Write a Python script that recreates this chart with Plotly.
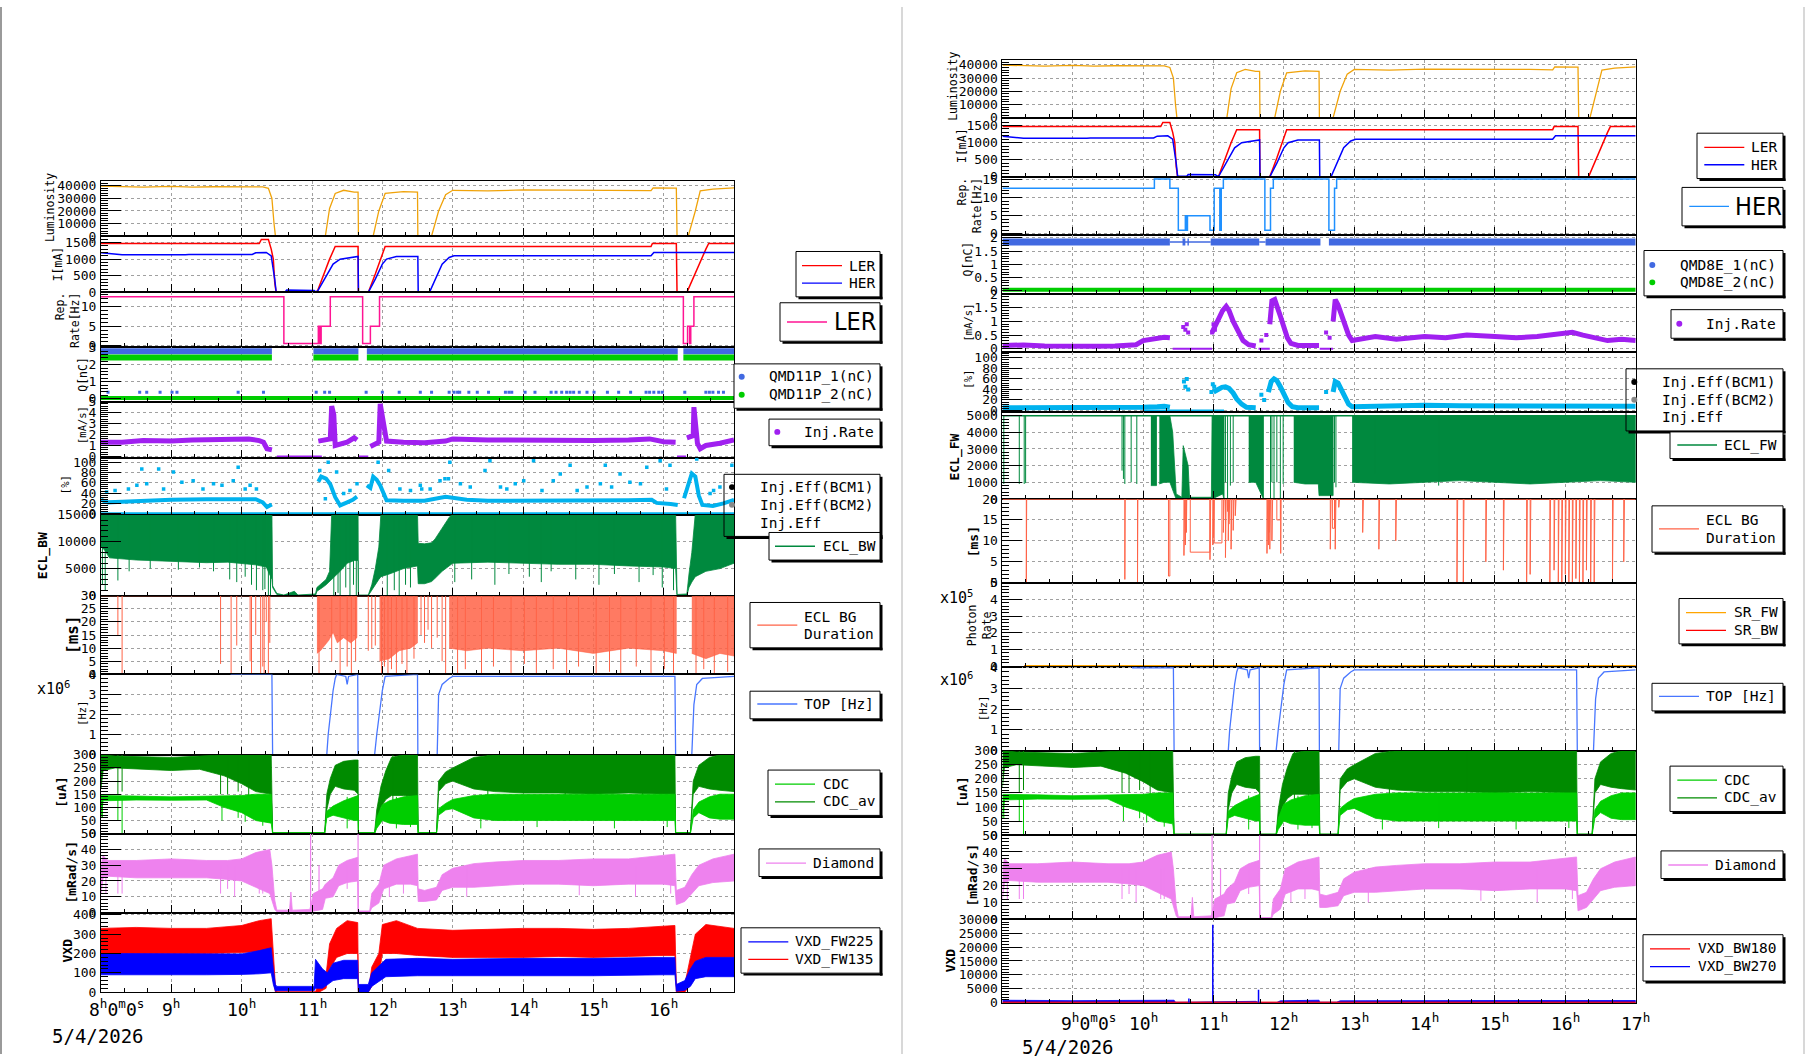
import plotly.graph_objects as go

W, H = 1806, 1062
HOURS = list(range(8, 18))

# ====================== DATA (hours of day, values) ======================
# ---- shared detector / machine data (drawn on both canvases) ----
LUMINOSITY = [(8.0, 39800), (8.3, 39500), (8.6, 39000), (9.0, 39600), (9.3, 39000), (9.6, 39300),
              (10.0, 39200), (10.2, 38700), (10.3, 39200), (10.38, 38000), (10.43, 30000), (10.46, 10000),
              (10.48, 0), (11.19, 0), (11.25, 22000), (11.33, 34000), (11.45, 36500), (11.6, 35000),
              (11.655, 35000), (11.66, 0), (11.87, 0), (11.95, 20000), (12.04, 34000), (12.3, 35500),
              (12.5, 35000), (12.505, 0), (12.70, 0), (12.8, 20000), (12.9, 33000), (13.0, 36500),
              (13.5, 36000), (14.0, 36800), (14.5, 36800), (15.0, 36700), (15.5, 36500), (15.82, 36200),
              (15.85, 38500), (16.18, 38200), (16.19, 0), (16.35, 0), (16.45, 20000), (16.52, 36000),
              (16.7, 37500), (17.0, 38500)]
LER_CURRENT = [(8.0, 1470), (10.25, 1470), (10.28, 1590), (10.38, 1590), (10.42, 1300), (10.45, 1000),
               (10.47, 300), (10.49, 0), (11.07, 0), (11.15, 450), (11.25, 1000), (11.33, 1380),
               (11.655, 1380), (11.66, 0), (11.80, 0), (11.9, 550), (12.0, 1100), (12.04, 1380),
               (15.82, 1380), (15.84, 1470), (16.18, 1470), (16.19, 0), (16.33, 0), (16.45, 600),
               (16.6, 1300), (16.64, 1470), (17.0, 1470)]
HER_CURRENT = [(8.0, 1190), (8.15, 1170), (8.3, 1130), (9.2, 1130), (9.25, 1140), (10.15, 1140),
               (10.2, 1190), (10.35, 1200), (10.42, 1100), (10.47, 400), (10.49, 20), (10.62, 20),
               (10.64, 70), (11.03, 60), (11.05, 20), (11.08, 40), (11.2, 500), (11.3, 850), (11.4, 1000),
               (11.55, 1060), (11.655, 1080), (11.66, 0), (11.80, 0), (11.9, 400), (12.0, 850),
               (12.06, 1000), (12.2, 1080), (12.505, 1080), (12.51, 0), (12.67, 0), (12.75, 400),
               (12.85, 850), (12.95, 1050), (13.02, 1100), (15.82, 1100), (15.86, 1200), (17.0, 1200)]
TOP_RATE = [(8.0, 4.3), (9.84, 4.3), (9.85, 4.0), (10.43, 4.0), (10.44, 0), (11.21, 0), (11.23, 1.0),
            (11.26, 2.0), (11.3, 3.2), (11.33, 3.8), (11.35, 4.0), (11.48, 3.9), (11.5, 3.5), (11.52, 3.9),
            (11.65, 4.0), (11.655, 0), (11.89, 0), (11.92, 1.0), (11.96, 2.2), (12.0, 3.2), (12.04, 3.9),
            (12.5, 4.0), (12.505, 0), (12.78, 0), (12.8, 3.0), (12.85, 3.5), (12.95, 3.8), (13.0, 3.9),
            (16.16, 3.9), (16.17, 0), (16.4, 0), (16.43, 2.5), (16.47, 3.5), (16.55, 3.8), (17.0, 3.9)]
# CDC bands: (t, low, high)
CDC_AV_BAND = [(8.0, 170, 300), (8.03, 240, 300), (8.2, 250, 295), (8.6, 245, 292), (9.0, 240, 290),
               (9.4, 245, 295), (9.75, 220, 300), (10.0, 190, 300), (10.2, 160, 300), (10.42, 150, 300),
               (10.44, 0, 4), (11.18, 0, 4), (11.21, 90, 150), (11.26, 150, 210), (11.33, 180, 260),
               (11.45, 170, 275), (11.6, 165, 280), (11.655, 150, 280), (11.66, 0, 4), (11.89, 0, 4),
               (11.92, 40, 90), (11.98, 100, 180), (12.05, 130, 240), (12.13, 145, 290), (12.3, 145, 300),
               (12.5, 140, 300), (12.51, 0, 4), (12.77, 0, 4), (12.8, 160, 200), (12.9, 190, 235),
               (13.0, 200, 250), (13.3, 170, 290), (13.6, 160, 300), (14.0, 155, 300), (14.5, 155, 300),
               (15.0, 150, 300), (15.5, 155, 300), (16.0, 150, 300), (16.16, 150, 300), (16.17, 0, 4),
               (16.38, 0, 4), (16.42, 150, 200), (16.5, 180, 260), (16.65, 170, 290), (16.8, 165, 300),
               (17.0, 160, 300)]
CDC_BAND = [(8.0, 60, 145), (8.03, 125, 145), (8.5, 128, 143), (9.0, 127, 140), (9.5, 128, 142),
            (9.75, 100, 142), (10.0, 80, 145), (10.2, 50, 150), (10.42, 40, 150), (10.44, 0, 3),
            (11.18, 0, 3), (11.21, 60, 85), (11.3, 70, 105), (11.45, 60, 125), (11.6, 50, 140),
            (11.655, 50, 145), (11.66, 0, 3), (11.89, 0, 3), (11.92, 20, 60), (12.0, 50, 110),
            (12.1, 40, 125), (12.3, 35, 140), (12.5, 35, 145), (12.51, 0, 3), (12.77, 0, 3), (12.8, 70, 95),
            (12.9, 90, 115), (13.0, 95, 130), (13.3, 60, 145), (13.6, 50, 150), (14.0, 50, 150),
            (14.5, 50, 150), (15.0, 50, 150), (15.5, 50, 150), (16.0, 50, 150), (16.16, 50, 150),
            (16.17, 0, 3), (16.38, 0, 3), (16.42, 60, 90), (16.5, 80, 120), (16.65, 60, 140),
            (16.8, 55, 150), (17.0, 55, 150)]
CDC_AV_DIPS = [(8.24, 150), (8.3, 160), (9.7, 150), (9.8, 150), (9.95, 160), (10.1, 140), (12.15, 100),
               (12.35, 110), (13.5, 100), (14.6, 110), (15.7, 100)]
CDC_DIPS = [(8.02, 60), (8.24, 50), (8.3, 0), (9.72, 50), (9.95, 60), (10.05, 45), (10.3, 30), (11.5, 20),
            (12.2, 20), (12.4, 25), (13.4, 20), (14.2, 25), (15.3, 20), (16.05, 25)]
DIAMOND_BAND = [(8.0, 12, 30), (8.03, 22, 36), (8.1, 23, 33), (8.5, 22, 33), (9.0, 22, 34), (9.5, 22, 33),
                (9.8, 21, 33), (10.0, 20, 34), (10.2, 16, 38), (10.4, 12, 40), (10.43, 8, 30), (10.47, 2, 8),
                (10.5, 0.5, 1.5), (10.68, 0.5, 1.5), (10.7, 0.5, 13), (10.72, 0.5, 1.5), (10.97, 0.5, 2),
                (11.02, 1, 12), (11.15, 2, 15), (11.19, 9, 18), (11.3, 10, 22), (11.38, 17, 30),
                (11.5, 19, 33), (11.65, 20, 35), (11.66, 0, 1), (11.82, 0, 1), (11.85, 3, 12), (11.95, 6, 18),
                (12.02, 15, 30), (12.2, 18, 34), (12.4, 18, 36), (12.5, 17, 37), (12.51, 7, 15), (12.6, 7, 14),
                (12.77, 8, 16), (12.85, 14, 24), (13.0, 16, 28), (13.3, 16, 31), (13.6, 17, 32),
                (14.0, 18, 33), (14.5, 18, 33), (15.0, 17, 34), (15.5, 18, 34), (16.0, 18, 36),
                (16.16, 17, 37), (16.18, 5, 14), (16.3, 7, 16), (16.4, 12, 24), (16.5, 17, 30),
                (16.7, 19, 34), (17.0, 20, 37)]
DIAMOND_DIPS = [(8.07, 12), (8.24, 12), (8.3, 12), (9.7, 12), (9.8, 15), (9.9, 10), (10.25, 12), (10.3, 12),
                (11.5, 15), (12.1, 10), (12.3, 12), (13.2, 10), (14.8, 11), (15.6, 10), (16.1, 12)]
DIAMOND_PEAKS = [(10.98, 0, 50), (11.1, 2, 30), (11.655, 0, 50)]

# ---- left canvas : LER ----
REP_LER = [(8.0, 12.5), (10.60, 0.6), (11.09, 5), (11.11, 0.6), (11.13, 5), (11.26, 12.5), (11.72, 0.6),
           (11.83, 5), (11.96, 12.5), (16.28, 0.6), (16.34, 5), (16.37, 0.6), (16.385, 5), (16.43, 12.5),
           (17.0, 12.5)]
QMD11P_1_SPANS = [(8.0, 10.43), (11.02, 11.66), (11.78, 16.2), (16.28, 17.0)]
QMD11P_1_LEVEL = 2.8
QMD11P_1_LOW_T = [8.1, 8.55, 8.65, 8.84, 9.01, 9.08, 9.95, 10.31, 11.06, 11.18, 11.25, 11.77, 12.0, 12.24,
                  12.54, 12.7, 12.95, 13.02, 13.07, 13.1, 13.23, 13.35, 13.51, 13.75, 13.8, 13.84, 14.03,
                  14.17, 14.4, 14.47, 14.55, 14.62, 14.67, 14.72, 14.8, 14.91, 15.01, 15.2, 15.36, 15.53,
                  15.75, 15.8, 15.86, 15.93, 15.98, 16.3, 16.6, 16.65, 16.7, 16.78, 16.85]
QMD11P_1_LOW_LEVEL = 0.38
QMD11P_2_SPANS = [(8.0, 10.43), (11.02, 11.66), (11.78, 16.2), (16.28, 17.0)]
QMD11P_2_LEVEL = 2.42
QMD11P_2_LOW_SPANS = [(8.0, 17.0)]
QMD11P_2_LOW_LEVEL = 0.05
INJ_RATE_LER = [(8.0, 1.3), (8.3, 1.3), (8.6, 1.45), (9.0, 1.4), (9.3, 1.5), (9.6, 1.55), (9.9, 1.6),
                (10.1, 1.6), (10.25, 1.45), (10.31, 1.3), (10.36, 0.7), (10.43, 0.6), None,
                (11.09, 1.4), (11.2, 1.5), (11.26, 1.6), (11.28, 4.6), (11.31, 3.8), (11.33, 1.0), (11.4, 1.1),
                (11.5, 1.3), (11.6, 1.7), (11.64, 1.5), None,
                (11.83, 0.9), (11.9, 1.1), (11.95, 1.3), (11.97, 4.8), (12.0, 3.5), (12.04, 2.0), (12.06, 1.4),
                (12.3, 1.3), (12.6, 1.25), (12.9, 1.4), (13.0, 1.6), (13.5, 1.5), (14.0, 1.45), (14.5, 1.5),
                (15.0, 1.45), (15.5, 1.5), (15.8, 1.6), (16.0, 1.35), (16.17, 1.3), None,
                (16.33, 1.7), (16.38, 1.8), (16.42, 1.9), (16.43, 4.5), (16.46, 3.0), (16.48, 1.2),
                (16.52, 0.7), (16.6, 1.0), (16.8, 1.2), (17.0, 1.5)]
INJ_RATE_LER_ZERO = [(10.5, 11.14), (11.66, 11.8), (16.19, 16.32)]
INJ_EFF_LER = [(8.0, 27), (8.1, 22), (8.3, 23), (8.6, 25), (9.0, 27), (9.5, 28), (10.0, 29), (10.2, 28),
               (10.3, 22), (10.36, 13), (10.4, 16), (10.43, 18), None,
               (11.09, 62), (11.13, 72), (11.2, 68), (11.26, 57), (11.33, 32), (11.4, 16), (11.5, 22),
               (11.58, 27), (11.64, 33), None,
               (11.78, 55), (11.83, 50), (11.87, 72), (11.92, 66), (11.97, 55), (12.02, 38), (12.06, 26),
               (12.3, 25), (12.6, 25), (12.9, 33), (13.0, 31), (13.2, 27), (13.5, 25), (14.0, 25),
               (14.5, 25), (15.0, 26), (15.5, 26), (15.83, 27), (15.9, 21), (16.1, 19), (16.2, 17), None,
               (16.29, 30), (16.35, 55), (16.4, 78), (16.45, 72), (16.5, 35), (16.55, 17), (16.7, 15),
               (16.85, 20), (17.0, 27)]
INJ_EFF_LER_DOTS_T = [8.08, 8.2, 8.39, 8.51, 8.58, 8.65, 8.82, 8.89, 9.03, 9.15, 9.31, 9.45, 9.6, 9.72,
                      9.88, 9.95, 10.05, 10.12, 10.21, 11.11, 11.19, 11.23, 11.35, 11.45, 11.54, 11.64,
                      11.94, 12.09, 12.25, 12.4, 12.54, 12.68, 12.82, 12.94, 12.56, 12.89, 12.96,
                      13.11, 13.25, 13.46, 13.53, 13.68, 13.77, 13.89, 14.01, 14.15, 14.27, 14.43, 14.53,
                      14.67, 14.77, 14.91, 15.1, 15.17, 15.26, 15.38, 15.52, 15.67, 15.76, 15.95, 16.04,
                      16.09, 16.47, 16.66, 16.71, 16.8, 16.97]
INJ_EFF_LER_DOTS_V = [42, 45, 48, 55, 87, 58, 87, 48, 81, 61, 64, 48, 58, 55, 64, 90, 48, 55, 48, 84, 29,
                      100, 81, 39, 45, 58, 100, 84, 48, 45, 55, 48, 64, 68, 48, 68, 100,
                      58, 52, 84, 103, 52, 48, 58, 64, 103, 45, 64, 77, 94, 45, 52, 58, 94, 52, 77, 61, 58,
                      90, 103, 48, 94, 106, 39, 45, 52, 94]
ECL_BW_BAND = [(8.0, 9000, 15200), (8.05, 8500, 15200), (8.12, 7000, 15200), (8.5, 6600, 15200),
               (9.0, 6300, 15200), (9.5, 6100, 15200), (9.8, 6200, 15200), (10.0, 5900, 15200),
               (10.2, 5700, 15200), (10.35, 5300, 15200), (10.43, 3000, 15200), (10.44, 1500, 1800),
               (10.5, 200, 400), (10.6, 0, 100), (10.75, 0, 800), (10.8, 0, 100), (11.05, 0, 300),
               (11.07, 800, 1500), (11.15, 1500, 2500), (11.2, 2000, 3000), (11.25, 2500, 4500),
               (11.28, 3000, 15200), (11.4, 4500, 15200), (11.5, 6000, 15200), (11.6, 6500, 15200),
               (11.655, 6500, 15200), (11.66, 0, 100), (11.8, 0, 100), (11.85, 800, 2000), (11.9, 2000, 5000),
               (11.95, 3000, 9000), (11.98, 3500, 15200), (12.1, 4000, 15200), (12.3, 5000, 15200),
               (12.5, 5500, 15200), (12.51, 2200, 9700), (12.6, 2200, 9600), (12.7, 2600, 9800),
               (12.75, 3200, 10500), (12.85, 4500, 12500), (12.95, 5500, 14500), (13.0, 6000, 15200),
               (13.5, 6200, 15200), (14.0, 6000, 15200), (14.5, 5800, 15200), (15.0, 5800, 15200),
               (15.5, 5500, 15200), (16.0, 5300, 15200), (16.17, 5000, 15200), (16.19, 0, 200),
               (16.33, 0, 300), (16.36, 1500, 4000), (16.4, 2500, 8000), (16.45, 3500, 15200),
               (16.6, 4500, 15200), (16.8, 5000, 15200), (17.0, 6000, 15200)]
ECL_BW_DIPS = [(8.02, 2000), (8.06, 1000), (8.24, 2800), (8.4, 4500), (8.7, 5000), (9.1, 4800), (9.4, 5200),
               (9.6, 4500), (9.83, 3000), (9.93, 2500), (10.05, 3500), (10.14, 2000),
               (10.21, 1000), (10.3, 1000), (10.33, 1200), (10.38, 0), (10.41, 0), (11.31, 0), (11.37, 500),
               (11.4, 0), (11.48, 1500), (11.54, 0), (11.59, 2000), (11.63, 0), (12.07, 0), (12.17, 1000),
               (12.24, 0), (12.33, 2000), (12.4, 1500), (13.03, 2500), (13.27, 3000), (13.6, 2000),
               (13.8, 4000), (14.09, 3500), (14.26, 2500), (14.4, 4500), (14.75, 3000), (15.08, 2000),
               (15.3, 4000), (15.65, 2500), (15.85, 3800), (15.98, 1500), (16.14, 1000)]
ECL_BG_LER_DENSE = [[(11.07, 8), (11.12, 9), (11.18, 11), (11.24, 13), (11.3, 16), (11.36, 12), (11.45, 14),
                     (11.55, 12), (11.64, 14)],
                    [(11.96, 5), (12.1, 6), (12.24, 9), (12.4, 10), (12.5, 12)],
                    [(12.95, 10), (13.2, 9), (13.5, 10), (14.0, 9), (14.5, 10), (15.0, 8), (15.5, 10),
                     (16.0, 9), (16.18, 8)],
                    [(16.4, 8), (16.6, 6), (16.8, 8), (17.0, 7)]]
ECL_BG_LER_DIPS = [(8.24, 15), (8.3, 0), (9.7, 4), (9.85, 0), (9.93, 11), (10.12, 5), (10.14, 0), (10.2, 15),
                   (10.27, 0), (10.3, 3), (10.32, 0), (10.35, 20), (10.38, 0), (10.4, 12), (11.1, 0),
                   (11.28, 5), (11.4, 0), (11.5, 3), (11.56, 0), (11.62, 5), (11.8, 9), (11.85, 10),
                   (11.9, 11), (11.99, 0), (12.03, 3), (12.08, 0), (12.13, 2), (12.2, 0), (12.28, 4),
                   (12.35, 0), (12.45, 6), (12.55, 15), (12.6, 12), (12.65, 17), (12.7, 10), (12.78, 14),
                   (12.85, 5), (12.9, 0), (13.07, 0), (13.18, 2), (13.41, 0), (13.58, 3), (13.83, 0),
                   (14.02, 4), (14.19, 0), (14.43, 2), (14.62, 0), (14.79, 3), (15.04, 0), (15.23, 1),
                   (15.39, 0), (15.61, 3), (15.82, 0), (16.01, 2), (16.14, 0), (16.46, 0), (16.57, 2),
                   (16.72, 0), (16.91, 1)]
VXD_FW135_BAND = [(8.0, 200, 330), (8.5, 200, 335), (9.0, 200, 330), (9.5, 200, 330), (10.0, 205, 345),
                  (10.25, 210, 370), (10.42, 220, 380), (10.45, 60, 200), (10.48, 0, 30), (10.5, 0, 2),
                  (11.05, 0, 2), (11.1, 0, 50), (11.2, 20, 90), (11.25, 120, 250), (11.35, 180, 330),
                  (11.5, 200, 370), (11.65, 200, 360), (11.66, 0, 2), (11.8, 0, 2), (11.85, 30, 130),
                  (11.95, 80, 200), (12.0, 200, 350), (12.2, 200, 370), (12.5, 190, 330), (13.0, 180, 320),
                  (13.5, 180, 325), (14.0, 180, 330), (14.5, 185, 330), (15.0, 180, 325), (15.5, 185, 330),
                  (16.0, 190, 340), (16.16, 190, 345), (16.18, 0, 30), (16.3, 0, 40), (16.38, 40, 180),
                  (16.45, 160, 300), (16.6, 180, 350), (17.0, 180, 330)]
VXD_FW225_BAND = [(8.0, 90, 200), (8.5, 90, 200), (9.0, 90, 198), (9.5, 90, 198), (10.0, 92, 198),
                  (10.25, 95, 215), (10.42, 100, 230), (10.45, 40, 120), (10.48, 5, 40), (10.5, 8, 30),
                  (11.03, 8, 30), (11.05, 20, 170), (11.15, 20, 120), (11.22, 40, 100), (11.3, 60, 150),
                  (11.45, 70, 165), (11.65, 70, 165), (11.66, 0, 40), (11.8, 0, 40), (11.85, 30, 100),
                  (11.97, 60, 140), (12.05, 80, 170), (12.5, 85, 175), (13.0, 85, 170), (14.0, 85, 175),
                  (15.0, 85, 175), (16.0, 90, 180), (16.16, 90, 180), (16.18, 5, 40), (16.3, 10, 60),
                  (16.38, 30, 120), (16.45, 70, 160), (16.6, 80, 180), (17.0, 80, 180)]

# ---- right canvas : HER ----
REP_HER = [(8.0, 12.5), (10.16, 15), (10.38, 12.5), (10.50, 1), (10.60, 5), (10.62, 1), (10.63, 5),
           (10.95, 1), (11.01, 12.5), (11.09, 1), (11.11, 12.5), (11.14, 15), (11.73, 1), (11.81, 12.5),
           (11.85, 15), (12.64, 1), (12.72, 12.5), (12.75, 15), (17.0, 15)]
QMD8E_1_SPANS = [(8.0, 10.38), (10.56, 10.6), (10.63, 10.65), (10.96, 11.65), (11.74, 12.52), (12.64, 17.0)]
QMD8E_1_THIN_SPANS = [(10.38, 10.96), (11.65, 11.74)]
QMD8E_1_LEVEL = 1.84
QMD8E_2_SPANS = [(8.0, 17.0)]
QMD8E_2_LEVEL = 0.04
INJ_RATE_HER = [(8.0, 0.12), (8.3, 0.14), (8.6, 0.1), (9.0, 0.08), (9.3, 0.09), (9.6, 0.1), (9.9, 0.15),
                (10.0, 0.3), (10.1, 0.35), (10.2, 0.38), (10.3, 0.42), (10.38, 0.4), None,
                (10.98, 0.6), (11.03, 0.9), (11.08, 1.1), (11.13, 1.4), (11.18, 1.55), (11.22, 1.4),
                (11.28, 1.0), (11.35, 0.6), (11.42, 0.3), (11.5, 0.15), (11.6, 0.1), None,
                (11.8, 0.9), (11.83, 1.75), (11.87, 1.8), (11.9, 1.6), (11.95, 1.2), (12.0, 0.8),
                (12.05, 0.4), (12.1, 0.2), (12.2, 0.12), (12.5, 0.12), None,
                (12.7, 1.0), (12.73, 1.8), (12.77, 1.6), (12.82, 1.2), (12.87, 0.8), (12.92, 0.5),
                (12.97, 0.3), (13.1, 0.35), (13.3, 0.45), (13.6, 0.35), (14.0, 0.45), (14.3, 0.4),
                (14.6, 0.5), (15.0, 0.45), (15.3, 0.4), (15.6, 0.45), (15.9, 0.55), (16.1, 0.6),
                (16.25, 0.5), (16.4, 0.4), (16.6, 0.3), (16.8, 0.35), (17.0, 0.3)]
INJ_RATE_HER_ZERO = [(10.42, 10.98), (11.64, 11.8), (12.51, 12.7)]
INJ_RATE_HER_DOTS = [(10.57, 0.8), (10.6, 0.7), (10.62, 0.9), (10.64, 0.6), (10.98, 0.6), (11.0, 0.9),
                     (11.02, 0.7), (11.68, 0.3), (11.75, 0.5), (12.6, 0.6), (12.65, 0.4)]
INJ_EFF_HER = [(8.0, 5), (8.5, 5), (9.0, 4), (9.5, 4), (9.9, 4), (10.0, 6), (10.2, 7), (10.3, 8), (10.38, 6), None,
               (11.0, 35), (11.06, 40), (11.12, 44), (11.17, 45), (11.22, 42), (11.28, 33), (11.33, 22),
               (11.4, 12), (11.47, 6), (11.6, 5), None,
               (11.78, 35), (11.82, 55), (11.86, 60), (11.9, 57), (11.95, 45), (12.0, 30), (12.06, 15),
               (12.12, 7), (12.2, 5), (12.5, 5), None,
               (12.7, 35), (12.73, 55), (12.77, 52), (12.82, 40), (12.87, 25), (12.92, 12), (12.97, 7),
               (13.2, 8), (13.5, 9), (14.0, 10), (14.5, 9), (15.0, 9), (15.5, 8), (16.0, 9), (16.5, 7),
               (17.0, 8)]
INJ_EFF_HER_DOTS = [(10.58, 55), (10.6, 45), (10.62, 60), (10.64, 40), (10.97, 35), (10.99, 50),
                    (11.01, 45), (11.68, 30), (11.72, 20), (12.6, 35)]
INJ_EFF_HER_ZERO = [(10.0, 11.15)]
ECL_FW_LEVEL = 5000
ECL_FW_BANDS = [[(10.11, 800, 5000), (10.19, 800, 5000)],
                [(10.23, 900, 5000), (10.3, 1000, 5000), (10.38, 1000, 5000), (10.42, 600, 4000),
                 (10.45, 200, 2000), (10.47, 0, 300), (10.55, 0, 100), (10.57, 0, 3200), (10.64, 0, 2000),
                 (10.66, 0, 100), (10.97, 0, 100), (10.98, 0, 5000), (11.13, 300, 5000), (11.15, 0, 5000)],
                [(11.5, 1000, 5000), (11.6, 1000, 5000), (11.71, 0, 5000)],
                [(12.14, 1000, 5000), (12.3, 900, 5000), (12.49, 900, 5000), (12.5, 200, 5000),
                 (12.7, 200, 5000)],
                [(12.97, 1000, 5000), (13.5, 900, 5000), (14.0, 1000, 5000), (14.5, 1100, 5000),
                 (15.0, 1000, 5000), (15.5, 900, 5000), (16.0, 1000, 5000), (16.5, 1100, 5000),
                 (17.0, 1000, 5000)]]
ECL_FW_DIPS = [(8.02, 900), (8.24, 900), (8.31, 900), (8.33, 950), (9.7, 1700), (9.72, 1200), (9.74, 900),
               (9.83, 1000), (9.91, 900), (11.17, 1000), (11.2, 0), (11.24, 800), (11.28, 1000),
               (11.81, 0), (11.83, 1000), (11.86, 0), (11.9, 1000), (11.95, 0), (11.99, 900),
               (12.72, 1000), (12.74, 700), (13.3, 1500), (14.2, 800)]
ECL_BG_HER_LEVEL = 20
ECL_BG_HER_DIPS = [(8.34, 8.345, 0), (9.74, 9.745, 0.8), (9.92, 9.925, 0), (10.36, 10.38, 1.6),
                   (10.58, 10.59, 6.5), (10.6, 10.61, 9), (10.615, 10.62, 12), (10.67, 10.95, 7.3),
                   (10.95, 10.96, 5.5), (10.99, 11.0, 9), (11.0, 11.01, 11), (11.01, 11.12, 9.5),
                   (11.14, 11.15, 12), (11.17, 11.18, 6), (11.2, 11.21, 17), (11.21, 11.22, 10),
                   (11.22, 11.23, 14), (11.25, 11.26, 8), (11.28, 11.29, 12.5), (11.31, 11.32, 16),
                   (11.76, 11.77, 7), (11.78, 11.79, 9), (11.79, 11.8, 12), (11.8, 11.81, 8),
                   (11.83, 11.84, 10), (11.9, 11.95, 15), (11.955, 11.96, 7), (12.66, 12.67, 8),
                   (12.69, 12.72, 13), (12.72, 12.73, 17), (12.73, 12.74, 8), (12.78, 12.79, 18),
                   (13.12, 13.13, 12), (13.35, 13.36, 8), (13.59, 13.6, 10), (14.46, 14.47, 0),
                   (14.55, 14.56, 0), (14.87, 14.88, 5), (15.12, 15.13, 3), (15.45, 15.46, 0),
                   (15.5, 15.51, 2), (15.78, 15.79, 0), (15.84, 15.85, 3), (15.9, 15.91, 0),
                   (15.95, 15.96, 0), (16.0, 16.01, 2), (16.05, 16.06, 0), (16.1, 16.11, 0),
                   (16.15, 16.16, 1), (16.2, 16.21, 0), (16.25, 16.26, 0), (16.3, 16.31, 3),
                   (16.36, 16.37, 0), (16.41, 16.42, 0), (16.67, 16.68, 0), (16.83, 16.84, 5)]
SR_FW = [(8.31, 0), (17.0, 0)]
SR_BW = [(8.31, 0), (17.0, 0)]
VXD_BW270_BAND = [(8.0, 0, 900), (8.3, 0, 800), (9.0, 0, 750), (9.5, 0, 800), (10.0, 0, 800), (10.35, 0, 900),
                  (10.44, 0, 900), (10.46, 0, 150), (10.9, 0, 200), (11.0, 0, 300), (11.2, 0, 500),
                  (11.6, 0, 500), (11.64, 0, 100), (11.9, 0, 100), (11.95, 0, 700), (12.2, 0, 900),
                  (12.5, 0, 900), (12.51, 0, 200), (12.75, 0, 200), (12.8, 0, 700), (13.5, 0, 800),
                  (14.0, 0, 800), (15.0, 0, 800), (16.0, 0, 800), (17.0, 0, 800)]
VXD_BW180_BAND = [(8.0, 0, 250), (10.44, 0, 250), (10.46, 0, 30), (11.9, 0, 30), (12.0, 0, 300),
                  (12.5, 0, 300), (12.51, 0, 30), (12.8, 0, 30), (12.9, 0, 250), (17.0, 0, 250)]
VXD_BW270_PEAKS = [(10.65, 1500), (10.99, 28000), (11.64, 4700)]

# ====================== STYLE ======================
MONO = 'DejaVu Sans Mono'
C_LUM, C_LER, C_HER = '#f0a30a', '#ff0000', '#0000ff'
C_REP_LER, C_REP_HER = '#ff1493', '#1e90ff'
C_Q1, C_Q2 = '#4169e1', '#00cd00'
C_INJ, C_EFF = '#a020f0', '#00b2ee'
C_ECL, C_MS, C_TOP = '#00893e', '#ff6347', '#4876ff'
C_CDC, C_CDC_AV, C_DIA = '#00cd00', '#008b00', '#ee82ee'
C_SR_FW, C_SR_BW = '#ffa500', '#ff0000'
GRID = '#a0a0a0'

fig = go.Figure()
layout_axes = {}
n_axes = [0]
XMINOR = [8 + i / 3 for i in range(28) if i % 3 != 0]


def fx(x):
    return x / W


def fy(y):
    return 1 - y / H


def panel(x0, x1, y0, y1, yrange, yticks, ylabels=None):
    n_axes[0] += 1
    n = n_axes[0]
    s = '' if n == 1 else str(n)
    step = yticks[1] - yticks[0]
    sub = step / 5
    ymin = []
    for i in range(-10, 5 * (len(yticks) - 1) + 10):
        v = yticks[0] + i * sub
        if i % 5 != 0 and yrange[0] <= v <= yrange[1]:
            ymin.append(v)
    if ylabels is None:
        ylabels = [str(v) for v in yticks]
    layout_axes['xaxis' + s] = dict(
        domain=[fx(x0), fx(x1)], range=[8, 17], anchor='y' + s, tickmode='array', tickvals=HOURS,
        showticklabels=False, ticks='inside', ticklen=8, tickcolor='black', tickwidth=1,
        minor=dict(tickmode='array', tickvals=XMINOR, ticks='inside', ticklen=4, tickcolor='black',
                   showgrid=False),
        showgrid=True, gridcolor=GRID, griddash='dot', gridwidth=1,
        showline=True, linecolor='black', linewidth=1, mirror=True, zeroline=False, fixedrange=True)
    layout_axes['yaxis' + s] = dict(
        domain=[fy(y1), fy(y0)], range=yrange, anchor='x' + s, tickmode='array', tickvals=yticks,
        ticktext=ylabels, ticks='inside', ticklen=20, tickcolor='black', tickwidth=1,
        minor=dict(tickmode='array', tickvals=ymin, ticks='inside', ticklen=7, tickcolor='black',
                   showgrid=False),
        showgrid=True, gridcolor=GRID, griddash='dot', gridwidth=1,
        showline=True, linecolor='black', linewidth=1, mirror=True, zeroline=False, fixedrange=True,
        tickfont=dict(family=MONO, size=13, color='black'), ticklabelstandoff=1)
    return ('x' + s, 'y' + s)


def add(ax, xs, ys, color, width=1.2, shape='linear', fill=None, fillcolor=None, mode='lines', msize=4,
        msymbol='square'):
    fig.add_trace(go.Scatter(x=xs, y=ys, mode=mode, xaxis=ax[0], yaxis=ax[1], hoverinfo='skip',
                             line=dict(color=color, width=width, shape=shape), fill=fill,
                             fillcolor=fillcolor,
                             marker=dict(color=color, size=msize, symbol=msymbol, line=dict(width=0))))


def series(ax, pts, color, width=1.2, shape='linear'):
    xs = [None if p is None else p[0] for p in pts]
    ys = [None if p is None else p[1] for p in pts]
    add(ax, xs, ys, color, width, shape)


def band(ax, rows, color, edge=0.8, fillcolor=None):
    xs = [r[0] for r in rows] + [r[0] for r in reversed(rows)]
    ys = [r[2] for r in rows] + [r[1] for r in reversed(rows)]
    add(ax, xs, ys, color, edge, fill='toself', fillcolor=fillcolor or color)


def spikes(ax, rows, top, color, width=1.0):
    xs, ys = [], []
    for t, v in rows:
        xs += [t, t, None]
        ys += [top, v, None]
    add(ax, xs, ys, color, width)


def spans(ax, ivals, level, color, width):
    xs, ys = [], []
    for a, b in ivals:
        xs += [a, b, None]
        ys += [level, level, None]
    add(ax, xs, ys, color, width)


def dips(ax, rows, top, color, width=1.0):
    xs, ys = [], []
    for a, b, v in rows:
        xs += [a, a, b, b, None]
        ys += [top, v, v, top, None]
    add(ax, xs, ys, color, width)


# ====================== LEFT CANVAS ======================
LX0, LX1 = 101, 734
L = {}
L['lum'] = panel(LX0, LX1, 176, 232.3, [0, 44300], [0, 10000, 20000, 30000, 40000])
L['cur'] = panel(LX0, LX1, 232.3, 289.5, [0, 1695], [0, 500, 1000, 1500])
L['rep'] = panel(LX0, LX1, 289.5, 345.3, [-0.4, 13.6], [0, 5, 10])
L['q'] = panel(LX0, LX1, 345.3, 400.3, [-0.17, 3.02], [0, 1, 2, 3])
L['inj'] = panel(LX0, LX1, 400.3, 457, [-0.1, 5.0], [0, 1, 2, 3, 4, 5])
L['eff'] = panel(LX0, LX1, 457, 515, [-2, 109], [0, 20, 40, 60, 80, 100])
L['ecl'] = panel(LX0, LX1, 515, 597, [0, 15000], [0, 5000, 10000, 15000])
L['ms'] = panel(LX0, LX1, 597, 677, [0, 30], [0, 5, 10, 15, 20, 25, 30])
L['top'] = panel(LX0, LX1, 677, 758.5, [0, 4], [0, 1, 2, 3, 4])
L['cdc'] = panel(LX0, LX1, 758.5, 838.5, [0, 300], [0, 50, 100, 150, 200, 250, 300])
L['dia'] = panel(LX0, LX1, 838.5, 918.5, [0, 50], [0, 10, 20, 30, 40, 50])
L['vxd'] = panel(LX0, LX1, 918.5, 999.3, [0, 412], [0, 100, 200, 300, 400])

series(L['lum'], LUMINOSITY, C_LUM, 1.3)
series(L['cur'], LER_CURRENT, C_LER, 1.5)
series(L['cur'], HER_CURRENT, C_HER, 1.5)
series(L['rep'], REP_LER, C_REP_LER, 1.5, 'hv')
spans(L['q'], QMD11P_1_SPANS, QMD11P_1_LEVEL, C_Q1, 6)
spans(L['q'], QMD11P_2_SPANS, QMD11P_2_LEVEL, C_Q2, 6)
spans(L['q'], QMD11P_2_LOW_SPANS, QMD11P_2_LOW_LEVEL, C_Q2, 4)
add(L['q'], QMD11P_1_LOW_T, [QMD11P_1_LOW_LEVEL] * len(QMD11P_1_LOW_T), C_Q1, mode='markers', msize=3)
spans(L['inj'], INJ_RATE_LER_ZERO, 0, C_INJ, 2)
series(L['inj'], INJ_RATE_LER, C_INJ, 5)
spans(L['eff'], [(8.0, 17.0)], 0, C_EFF, 3)
series(L['eff'], INJ_EFF_LER, C_EFF, 4)
add(L['eff'], INJ_EFF_LER_DOTS_T, INJ_EFF_LER_DOTS_V, C_EFF, mode='markers', msize=3.5)
band(L['ecl'], ECL_BW_BAND, C_ECL)
spikes(L['ecl'], ECL_BW_DIPS, 15000, C_ECL)
spans(L['ms'], [(8.0, 17.0)], 30, C_MS, 1.5)
for seg in ECL_BG_LER_DENSE:
    band(L['ms'], [(t, v, 30) for t, v in seg], C_MS, 0.5, 'rgba(255,99,71,0.85)')
spikes(L['ms'], ECL_BG_LER_DIPS, 30, C_MS)
series(L['top'], TOP_RATE, C_TOP, 1.3)
band(L['cdc'], CDC_AV_BAND, C_CDC_AV)
spikes(L['cdc'], CDC_AV_DIPS, 300, C_CDC_AV)
band(L['cdc'], CDC_BAND, C_CDC)
spikes(L['cdc'], CDC_DIPS, 140, C_CDC)
band(L['dia'], DIAMOND_BAND, C_DIA)
spikes(L['dia'], DIAMOND_DIPS, 30, C_DIA)
add(L['dia'], [v for t, lo, hi in DIAMOND_PEAKS for v in (t, t, None)],
    [v for t, lo, hi in DIAMOND_PEAKS for v in (lo, hi, None)], C_DIA, 1.2)
band(L['vxd'], VXD_FW135_BAND, C_LER)
band(L['vxd'], VXD_FW225_BAND, C_HER)

# ====================== RIGHT CANVAS ======================
RX0, RX1 = 1002.4, 1635.7
R = {}
R['lum'] = panel(RX0, RX1, 53.3, 112.3, [0, 44000], [0, 10000, 20000, 30000, 40000])
R['cur'] = panel(RX0, RX1, 112.3, 172.3, [0, 1730], [0, 500, 1000, 1500])
R['rep'] = panel(RX0, RX1, 172.3, 231.3, [-0.3, 15.6], [0, 5, 10, 15])
R['q'] = panel(RX0, RX1, 231.3, 290.7, [-0.1, 2.1], [0, 0.5, 1, 1.5, 2], ['0', '0.5', '1', '1.5', '2'])
R['inj'] = panel(RX0, RX1, 290.7, 350, [-0.12, 2.02], [0, 0.5, 1, 1.5, 2], ['0', '0.5', '1', '1.5', '2'])
R['eff'] = panel(RX0, RX1, 350, 410.3, [-2, 111], [0, 20, 40, 60, 80, 100])
R['ecl'] = panel(RX0, RX1, 410.3, 499, [0, 5250], [0, 1000, 2000, 3000, 4000, 5000])
R['ms'] = panel(RX0, RX1, 499, 584, [0, 20], [0, 5, 10, 15, 20])
R['sr'] = panel(RX0, RX1, 584, 669, [-0.03, 5], [0, 1, 2, 3, 4, 5])
R['top'] = panel(RX0, RX1, 669, 754.3, [0, 4.06], [0, 1, 2, 3, 4])
R['cdc'] = panel(RX0, RX1, 754.3, 840, [0, 300], [0, 50, 100, 150, 200, 250, 300])
R['dia'] = panel(RX0, RX1, 840, 925.3, [0, 50], [0, 10, 20, 30, 40, 50])
R['vxd'] = panel(RX0, RX1, 925.3, 1010, [0, 30000], [0, 5000, 10000, 15000, 20000, 25000, 30000])

series(R['lum'], LUMINOSITY, C_LUM, 1.3)
series(R['cur'], LER_CURRENT, C_LER, 1.5)
series(R['cur'], HER_CURRENT, C_HER, 1.5)
series(R['rep'], REP_HER, C_REP_HER, 1.5, 'hv')
spans(R['q'], QMD8E_1_THIN_SPANS, QMD8E_1_LEVEL, C_Q1, 1.5)
spans(R['q'], QMD8E_1_SPANS, QMD8E_1_LEVEL, C_Q1, 7)
spans(R['q'], QMD8E_2_SPANS, QMD8E_2_LEVEL, C_Q2, 4)
spans(R['inj'], INJ_RATE_HER_ZERO, 0, C_INJ, 2)
series(R['inj'], INJ_RATE_HER, C_INJ, 5)
add(R['inj'], [p[0] for p in INJ_RATE_HER_DOTS], [p[1] for p in INJ_RATE_HER_DOTS], C_INJ,
    mode='markers', msize=4)
spans(R['eff'], INJ_EFF_HER_ZERO, 0, C_EFF, 2)
series(R['eff'], INJ_EFF_HER, C_EFF, 5)
add(R['eff'], [p[0] for p in INJ_EFF_HER_DOTS], [p[1] for p in INJ_EFF_HER_DOTS], C_EFF,
    mode='markers', msize=4)
spans(R['ecl'], [(8.0, 17.0)], ECL_FW_LEVEL, C_ECL, 1.5)
for seg in ECL_FW_BANDS:
    band(R['ecl'], seg, C_ECL)
spikes(R['ecl'], ECL_FW_DIPS, ECL_FW_LEVEL, C_ECL)
spans(R['ms'], [(8.0, 17.0)], ECL_BG_HER_LEVEL, C_MS, 1.5)
dips(R['ms'], ECL_BG_HER_DIPS, ECL_BG_HER_LEVEL, C_MS)
series(R['sr'], SR_BW, C_SR_BW, 2)
series(R['sr'], SR_FW, C_SR_FW, 2)
series(R['top'], TOP_RATE, C_TOP, 1.3)
band(R['cdc'], CDC_AV_BAND, C_CDC_AV)
spikes(R['cdc'], CDC_AV_DIPS, 300, C_CDC_AV)
band(R['cdc'], CDC_BAND, C_CDC)
spikes(R['cdc'], CDC_DIPS, 140, C_CDC)
band(R['dia'], DIAMOND_BAND, C_DIA)
spikes(R['dia'], DIAMOND_DIPS, 30, C_DIA)
add(R['dia'], [v for t, lo, hi in DIAMOND_PEAKS for v in (t, t, None)],
    [v for t, lo, hi in DIAMOND_PEAKS for v in (lo, hi, None)], C_DIA, 1.2)
band(R['vxd'], VXD_BW270_BAND, C_HER)
band(R['vxd'], VXD_BW180_BAND, C_LER)
spikes(R['vxd'], VXD_BW270_PEAKS, 0, C_HER, 1.5)

# ====================== TEXT / LEGENDS ======================
annotations = []
shapes = []


def text(x, y, s, size=14.5, family=MONO, angle=0, xanchor='left', align='left', color='black'):
    annotations.append(dict(x=fx(x), y=fy(y), xref='paper', yref='paper', text=s, showarrow=False,
                            xanchor=xanchor, yanchor='middle', textangle=angle, align=align,
                            font=dict(family=family, size=size, color=color)))


def ytitle(x, y, s, size=11.5, bold=False, align='center'):
    if bold:
        s = '<b>' + s + '</b>'
    text(x, y, s, size=size, angle=-90, xanchor='center', align=align)


def rect(x0, y0, x1, y1, fill, line=None):
    shapes.append(dict(type='rect', xref='paper', yref='paper', x0=fx(x0), x1=fx(x1), y0=fy(y1), y1=fy(y0),
                       fillcolor=fill, line=line or dict(width=0), layer='above'))


def box(x0, y0, x1, y1, filled=True):
    sh = 2.5
    rect(x1, y0 + sh, x1 + sh, y1 + sh, 'black')          # right shadow strip
    rect(x0 + sh, y1, x1 + sh, y1 + sh, 'black')          # bottom shadow strip
    rect(x0, y0, x1, y1, 'white' if filled else 'rgba(0,0,0,0)', dict(color='black', width=1))


def lsample(x0, x1, y, color):
    shapes.append(dict(type='line', xref='paper', yref='paper', x0=fx(x0), x1=fx(x1), y0=fy(y), y1=fy(y),
                       line=dict(color=color, width=1.3), layer='above'))


def dot(x, y, color, r=3):
    shapes.append(dict(type='circle', xref='paper', yref='paper', x0=fx(x - r), x1=fx(x + r),
                       y0=fy(y + r), y1=fy(y - r), fillcolor=color, line=dict(width=0), layer='above'))


BIG = 'Liberation Sans Narrow, DejaVu Sans Condensed, Liberation Sans, sans-serif'

# y titles, left canvas
ytitle(50, 204, 'Luminosity')
ytitle(58, 260, 'I[mA]')
ytitle(67.5, 318, 'Rep.<br>Rate[Hz]', align='right')
ytitle(83, 373, 'Q[nC]')
ytitle(82, 424, '[mA/s]', 10.5)
ytitle(65, 485, '[%]', 10.5)
ytitle(43, 557, 'ECL_BW', 13, True)
ytitle(72, 637, '[ms]', 16, True)
text(53, 691, 'x10<sup>6</sup>', 15, xanchor='center')
ytitle(82, 717, '[Hz]', 10.5)
ytitle(62, 797, '[uA]', 13, True)
ytitle(72, 878, '[mRad/s]', 13, True)
ytitle(67, 957, 'VXD', 13, True)
# y titles, right canvas
ytitle(953, 81, 'Luminosity')
ytitle(962, 141, 'I[mA]')
ytitle(969, 202, 'Rep.<br>Rate[Hz]', align='right')
ytitle(968, 256, 'Q[nC]')
ytitle(968, 320, '[mA/s]', 10.5)
ytitle(968, 378, '[%]', 10.5)
ytitle(955, 457, 'ECL_FW', 13, True)
ytitle(973, 542, '[ms]', 13, True)
text(956, 598, 'x10<sup>5</sup>', 15, xanchor='center')
ytitle(979, 627, 'Photon<br>Rate')
text(956, 682, 'x10<sup>6</sup>', 15, xanchor='center')
ytitle(983, 712, '[Hz]', 10.5)
ytitle(963, 797, '[uA]', 13, True)
ytitle(973, 880, '[mRad/s]', 13, True)
ytitle(950, 967, 'VXD', 13, True)

# time axis labels
for first, last, ylab, ax in ((8, 16, 1015, L['vxd']), (9, 17, 1030, R['vxd'])):
    for h in range(first, last + 1):
        if h == first:
            s = '%d<sup>h</sup>0<sup>m</sup>0<sup>s</sup>' % h
            annotations.append(dict(x=h, y=fy(ylab), xref=ax[0], yref='paper', text=s, showarrow=False,
                                    xanchor='left', xshift=-14, yanchor='middle',
                                    font=dict(family=MONO, size=18, color='black')))
        else:
            s = '%d<sup>h</sup>' % h
            annotations.append(dict(x=h, y=fy(ylab), xref=ax[0], yref='paper', text=s, showarrow=False,
                                    xanchor='center', yanchor='middle',
                                    font=dict(family=MONO, size=18, color='black')))
text(98, 1044, '5/4/2026', 19, xanchor='center')
text(1068, 1055, '5/4/2026', 19, xanchor='center')

# legends, left canvas
box(796, 248, 880, 294)
lsample(802, 842, 262.3, C_LER); text(847, 262.3, 'LER')
lsample(802, 842, 280, C_HER); text(847, 280, 'HER')
box(780, 300, 880, 339)
lsample(787, 827, 319.5, C_REP_LER); text(832, 319.5, 'LER', 25, BIG)
box(734, 362, 880, 407)
dot(741.7, 375, C_Q1); text(766.7, 375, 'QMD11P_1(nC)')
dot(741.7, 393.3, C_Q2); text(766.7, 393.3, 'QMD11P_2(nC)')
box(769, 418, 880, 445)
dot(777.3, 431, C_INJ); text(802.3, 431, 'Inj.Rate')
box(724, 474, 880, 537, filled=False)
dot(732, 487, 'black'); dot(732, 505, '#888888')
text(757.7, 486.7, 'Inj.Eff(BCM1)'); text(757.7, 505, 'Inj.Eff(BCM2)'); text(757.7, 523.3, 'Inj.Eff')
box(769, 533, 880, 561)
lsample(775, 815, 547, C_ECL); text(820.7, 547, 'ECL_BW')
box(750, 604, 880, 650)
lsample(757.3, 797.3, 627, C_MS); text(802.3, 618.3, 'ECL BG'); text(802.3, 636, 'Duration')
box(750, 694, 880, 722)
lsample(757.3, 797.3, 707, C_TOP); text(802.3, 707, 'TOP [Hz]')
box(768, 774, 880, 820)
lsample(775, 815, 788.3, C_CDC); text(820.7, 788.3, 'CDC')
lsample(775, 815, 806.3, C_CDC_AV); text(820.7, 806.3, 'CDC_av')
box(759, 854, 880, 882)
lsample(766, 806, 868.3, C_DIA); text(811, 868.3, 'Diamond')
box(741, 934, 880, 980)
lsample(748.3, 788.3, 948.3, C_HER); text(793.3, 948.3, 'VXD_FW225')
lsample(748.3, 788.3, 966, C_LER); text(793.3, 966, 'VXD_FW135')

# legends, right canvas
box(1697, 128, 1783, 174)
lsample(1704.3, 1744.3, 142.3, C_LER); text(1749.3, 142.3, 'LER')
lsample(1704.3, 1744.3, 160, C_HER); text(1749.3, 160, 'HER')
box(1682, 183, 1783, 222)
lsample(1689.3, 1729, 202.3, C_REP_HER); text(1733, 202.3, 'HER', 25, BIG)
box(1644, 247, 1783, 293)
dot(1652.3, 261.7, C_Q1); text(1677.7, 261.7, 'QMD8E_1(nC)')
dot(1652.3, 279.3, C_Q2); text(1677.7, 279.3, 'QMD8E_2(nC)')
box(1671, 307, 1783, 336)
dot(1679.3, 321.3, C_INJ); text(1704.3, 321.3, 'Inj.Rate')
box(1626, 367, 1783, 430, filled=False)
dot(1634.3, 380.3, 'black'); dot(1634.3, 398.3, '#888888')
text(1660, 380.3, 'Inj.Eff(BCM1)'); text(1660, 398.3, 'Inj.Eff(BCM2)'); text(1660, 416.3, 'Inj.Eff')
box(1670, 431, 1783, 458)
lsample(1677.3, 1717, 444.3, C_ECL); text(1722.3, 444.3, 'ECL_FW')
box(1652, 506, 1783, 553)
lsample(1659, 1699, 529.3, C_MS); text(1704.3, 520, 'ECL BG'); text(1704.3, 538.3, 'Duration')
box(1679, 600, 1783, 646)
lsample(1686, 1726, 614.3, C_SR_FW); text(1731.7, 614.3, 'SR_FW')
lsample(1686, 1726, 632.3, C_SR_BW); text(1731.7, 632.3, 'SR_BW')
box(1652, 686, 1783, 714)
lsample(1659, 1699, 699.3, C_TOP); text(1704.3, 699.3, 'TOP [Hz]')
box(1670, 770, 1783, 816)
lsample(1677.3, 1717, 784.3, C_CDC); text(1722.3, 784.3, 'CDC')
lsample(1677.3, 1717, 802.3, C_CDC_AV); text(1722.3, 802.3, 'CDC_av')
box(1661, 856, 1783, 884)
lsample(1668.3, 1708, 870.3, C_DIA); text(1713.3, 870.3, 'Diamond')
box(1643, 941, 1783, 988)
lsample(1650, 1690, 955.3, C_LER); text(1695.7, 955.3, 'VXD_BW180')
lsample(1650, 1690, 973.3, C_HER); text(1695.7, 973.3, 'VXD_BW270')

# canvas borders
for xpos, col in ((1, '#9a9a9a'), (902, '#d8d8d8'), (1804, '#d8d8d8')):
    shapes.append(dict(type='line', xref='paper', yref='paper', x0=fx(xpos), x1=fx(xpos), y0=0, y1=1,
                       line=dict(color=col, width=2), layer='above'))

fig.update_layout(width=W, height=H, margin=dict(l=0, r=0, t=0, b=0), autosize=False,
                  paper_bgcolor='white', plot_bgcolor='white', showlegend=False,
                  annotations=annotations, shapes=shapes, **layout_axes)
fig.write_html('out.html')
